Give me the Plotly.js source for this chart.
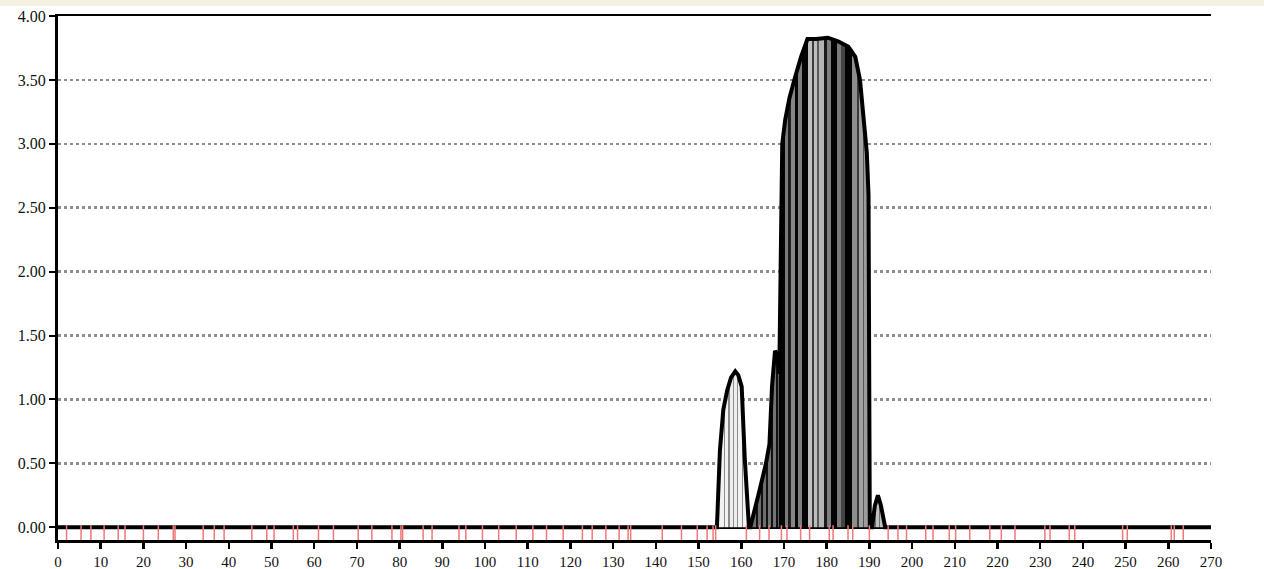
<!DOCTYPE html>
<html>
<head>
<meta charset="utf-8">
<script src="https://cdn.plot.ly/plotly-3.0.1.min.js"></script>
<style>
  html, body { margin: 0; padding: 0; background: #ffffff; }
  #band { position: absolute; left: 0; top: 0; width: 1264px; height: 6px; background: #f4f0e2; }
  #chart { position: absolute; left: 0; top: 0; width: 1264px; height: 569px; }
</style>
</head>
<body>
<div id="band"></div>
<div id="chart"></div>
<script>
// Envelope of the profile (position, value)
var envX = [0, 154.3, 155.0, 155.8, 156.7, 157.6, 158.6, 159.3, 160.1, 160.8, 161.8,
            162.1, 164.0, 165.8, 166.6, 167.2, 167.9, 168.5, 168.9,
            169.2, 169.6, 170.3, 171.3, 172.6, 174.0, 175.5, 177.5, 180.3, 182.8, 185.1,
            186.7, 187.8, 188.7, 189.4, 189.8, 190.1,
            190.6, 191.3, 192.0, 192.7, 193.7, 270];
var envY = [0, 0, 0.60, 0.92, 1.07, 1.17, 1.22, 1.19, 1.10, 0.55, 0,
            0, 0.25, 0.50, 0.65, 1.10, 1.38, 1.35, 1.20,
            2.30, 3.00, 3.19, 3.36, 3.52, 3.68, 3.82, 3.82, 3.83, 3.80, 3.76,
            3.68, 3.50, 3.20, 2.93, 2.60, 0,
            0, 0.17, 0.25, 0.17, 0, 0];

// Vertical shading stripes inside the profile (edges in axis units, one colour per band)
var stripeEdges = [154, 155.9, 156.15, 157.0, 157.25, 158.0, 158.25, 159.1, 159.35, 160.2, 160.45, 162.0,
                   163.5, 163.85, 164.7, 165.05, 165.9, 166.25, 167.0, 167.35, 168.2, 168.55, 168.9,
                   170.2, 170.9, 171.3, 171.6, 172.6, 173.3, 174.2, 175.6, 176.5, 177.0, 177.8, 178.1, 179.3, 180.1, 180.9,
                   182.5, 183.3, 184.4, 186.0, 187.2, 187.5, 188.5, 188.8, 190.3, 191.2, 191.45, 192.3, 192.55, 194];
var stripeColors = ['#f2f2f2', '#8c8c8c', '#f2f2f2', '#8c8c8c', '#eeeeee', '#8c8c8c', '#eeeeee', '#8c8c8c', '#f2f2f2', '#8c8c8c', '#f4f4f4',
                    '#6e6e6e', '#111111', '#6e6e6e', '#111111', '#6e6e6e', '#111111', '#747474', '#111111', '#747474', '#111111', '#606060',
                    '#050505', '#7a7a7a', '#1a1a1a', '#222222', '#868686', '#050505', '#7e7e7e', '#050505', '#c0c0c0', '#3a3a3a', '#bcbcbc', '#5a5a5a', '#b4b4b4', '#1a1a1a', '#7e7e7e',
                    '#030303', '#7a7a7a', '#444444', '#030303', '#8e8e8e', '#3a3a3a', '#a2a2a2', '#555555', '#9c9c9c', '#c0c0c0', '#6e6e6e', '#c0c0c0', '#6e6e6e', '#c0c0c0'];

// Red marker positions in the strip below the baseline
var markerPos = [2.0, 5.4, 7.7, 10.8, 14.1, 15.7, 20.0, 23.5, 27.0, 27.4, 34.0, 36.6, 38.9, 45.4, 48.9, 50.6,
                 55.1, 56.1, 61.0, 64.5, 70.3, 73.5, 78.2, 80.3, 80.7, 85.5, 87.6, 93.9, 95.5, 99.4, 103.2,
                 107.3, 111.2, 114.4, 118.3, 122.8, 125.1, 128.3, 131.4, 133.5, 134.1, 141.5, 146.0, 149.7,
                 152.0, 153.4, 154.0, 161.2, 164.3, 166.5, 169.4, 170.7, 173.9, 176.0, 180.6, 181.5, 185.0,
                 186.1, 190.0, 194.4, 196.7, 198.7, 203.2, 204.9, 208.7, 210.2, 213.5, 218.2, 220.9, 224.1,
                 231.1, 232.3, 236.8, 238.1, 249.3, 250.4, 260.7, 261.4, 263.5];

var xTicks = [0, 10, 20, 30, 40, 50, 60, 70, 80, 90, 100, 110, 120, 130, 140, 150, 160, 170, 180, 190, 200, 210, 220, 230, 240, 250, 260, 270];
var yTicks = [0, 0.5, 1.0, 1.5, 2.0, 2.5, 3.0, 3.5, 4.0];

// Build a sharp-edged colour scale from the stripe bands
var g0 = stripeEdges[0], g1 = stripeEdges[stripeEdges.length - 1];
var scale = [];
for (var i = 0; i < stripeColors.length; i++) {
  scale.push([(stripeEdges[i] - g0) / (g1 - g0), stripeColors[i]]);
  scale.push([(stripeEdges[i + 1] - g0) / (g1 - g0), stripeColors[i]]);
}
scale[0][0] = 0; scale[scale.length - 1][0] = 1;

var serif = 'Liberation Serif, Times New Roman, serif';
var yMin = -0.1, yMax = 4.0;
var stripMid = yMin / 2;

var traces = [{
  type: 'scatter', mode: 'lines', x: envX, y: envY,
  fill: 'tozeroy',
  fillcolor: '#888888',
  fillgradient: { type: 'horizontal', start: g0, stop: g1, colorscale: scale },
  line: { color: '#000000', width: 4, shape: 'linear' },
  hoverinfo: 'skip', showlegend: false
}, {
  type: 'scatter', mode: 'markers', x: markerPos,
  y: markerPos.map(function () { return stripMid; }),
  marker: { symbol: 'line-ns', size: 12, color: '#f07878', line: { color: '#f07878', width: 1.5 } },
  hoverinfo: 'skip', showlegend: false, cliponaxis: false
}];

var layout = {
  width: 1264, height: 569,
  margin: { l: 58, r: 53, t: 16, b: 29, pad: 0 },
  paper_bgcolor: 'rgba(0,0,0,0)',
  plot_bgcolor: 'rgba(0,0,0,0)',
  showlegend: false,
  font: { family: serif, color: '#111111', size: 14 },
  xaxis: {
    range: [0, 270], tickvals: xTicks, ticktext: xTicks.map(String),
    ticks: 'outside', ticklen: 6, tickwidth: 2.5, tickcolor: '#000',
    showline: true, linecolor: '#000', linewidth: 2.5, mirror: true,
    showgrid: false, zeroline: false,
    tickfont: { family: serif, size: 15, color: '#111111' }
  },
  yaxis: {
    range: [yMin, yMax], tickvals: yTicks, tickformat: '.2f',
    ticks: 'outside', ticklen: 6, tickwidth: 2, tickcolor: '#000',
    showline: true, linecolor: '#000', linewidth: 3,
    showgrid: true, gridcolor: '#8f8f8f', gridwidth: 2.5, griddash: 'dot',
    zeroline: true, zerolinecolor: '#000', zerolinewidth: 3,
    tickfont: { family: serif, size: 16, color: '#111111' }
  },
  yaxis2: {
    overlaying: 'y', side: 'right', anchor: 'x',
    range: [yMin, yMax], tickvals: yTicks, tickformat: '.2f',
    ticks: 'outside', ticklen: 6, tickwidth: 2, tickcolor: '#000',
    showline: true, linecolor: '#000', linewidth: 3,
    showgrid: false, zeroline: false,
    tickfont: { family: serif, size: 16, color: '#111111' }
  }
};

Plotly.newPlot('chart', traces, layout, { staticPlot: true, displayModeBar: false });
</script>
</body>
</html>
